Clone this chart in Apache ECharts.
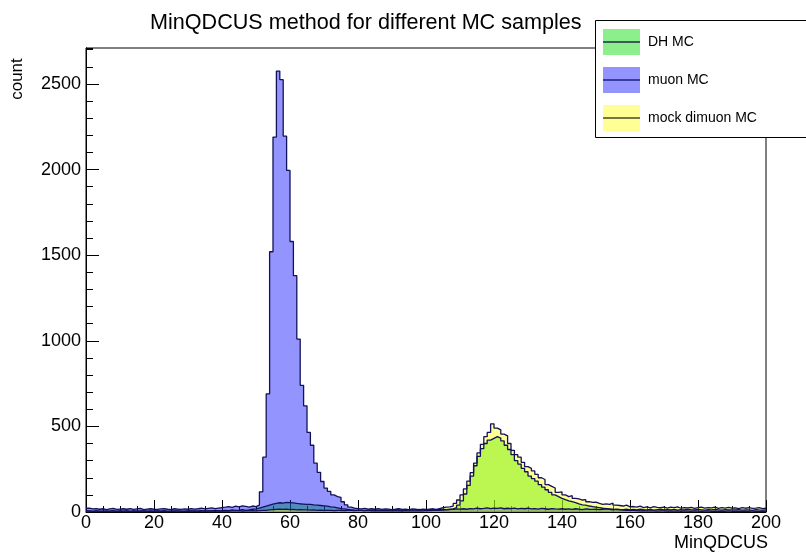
<!DOCTYPE html>
<html>
<head>
<meta charset="utf-8">
<script src="https://cdn.jsdelivr.net/npm/echarts@6/dist/echarts.min.js"></script>
<style>
  html, body { margin: 0; padding: 0; background: #fff; }
  #chart { width: 806px; height: 553px; }
</style>
</head>
<body>
<div id="chart"></div>
<script>
// histogram binning: 200 bins of width 1 starting at 0
const binLow = 0;
const binWidth = 1;

const seriesNames = ['DH MC', 'muon MC', 'mock dimuon MC'];

// bin contents
const dhMC = [
  6, 4, 7, 5, 3, 6, 5, 8, 4, 6,
  5, 7, 4, 6, 5, 3, 7, 5, 6, 4,
  6, 5, 8, 4, 5, 7, 6, 4, 5, 6,
  7, 5, 6, 8, 5, 6, 7, 9, 6, 8,
  10, 8, 12, 9, 11, 14, 10, 13, 16, 18,
  22, 28, 34, 40, 46, 50, 54, 52, 56, 55,
  53, 50, 48, 46, 44, 45, 42, 40, 38, 36,
  34, 30, 28, 24, 20, 18, 15, 13, 11, 10,
  9, 8, 9, 7, 8, 6, 7, 8, 6, 7,
  6, 7, 5, 8, 6, 7, 6, 8, 7, 9,
  8, 9, 10, 9, 11, 12, 14, 18, 25, 40,
  65, 105, 155, 210, 270, 325, 370, 400, 420, 430,
  440, 432, 415, 390, 365, 335, 300, 280, 255, 235,
  210, 195, 180, 160, 145, 130, 115, 100, 90, 80,
  72, 65, 60, 55, 48, 42, 40, 35, 32, 28,
  25, 22, 20, 18, 16, 14, 12, 11, 10, 9,
  9, 8, 7, 8, 6, 7, 6, 5, 7, 6,
  5, 6, 5, 7, 4, 6, 5, 4, 6, 5,
  4, 5, 6, 4, 5, 3, 5, 4, 6, 4,
  5, 4, 3, 5, 4, 6, 3, 4, 5, 4
];

const muonMC = [
  22, 18, 20, 16, 19, 14, 18, 21, 15, 17,
  19, 16, 20, 15, 18, 21, 14, 17, 19, 16,
  15, 18, 20, 16, 14, 19, 17, 15, 18, 16,
  20, 17, 19, 22, 18, 21, 24, 20, 23, 26,
  28, 32, 27, 34, 30, 36, 33, 29, 35, 31,
  40, 118, 320, 690, 1520, 2190, 2575, 2525, 2195, 1995,
  1580, 1380, 1010, 740, 620, 465, 390, 285, 232, 178,
  140, 120, 100, 90, 86, 60, 42, 28, 22, 20,
  18, 21, 17, 19, 16, 20, 15, 18, 17, 14,
  16, 19, 15, 17, 14, 18, 16, 13, 17, 15,
  14, 16, 13, 15, 17, 14, 16, 15, 18, 17,
  19, 16, 20, 18, 22, 19, 21, 24, 20, 23,
  21, 24, 19, 22, 20, 23, 18, 21, 19, 22,
  18, 20, 17, 21, 19, 16, 20, 18, 17, 19,
  16, 18, 15, 19, 17, 14, 18, 16, 15, 17,
  14, 16, 18, 15, 13, 17, 15, 14, 16, 13,
  15, 12, 16, 14, 13, 15, 11, 14, 16, 12,
  14, 13, 15, 11, 14, 12, 16, 13, 12, 15,
  13, 11, 14, 12, 15, 13, 11, 14, 12, 13,
  12, 14, 11, 13, 12, 10, 14, 12, 11, 13
];

const mockMC = [
  5, 3, 6, 4, 5, 2, 4, 6, 3, 5,
  4, 6, 3, 5, 4, 6, 5, 3, 4, 5,
  6, 4, 5, 3, 5, 4, 6, 5, 4, 3,
  5, 6, 4, 5, 7, 5, 6, 4, 6, 5,
  6, 5, 7, 6, 8, 5, 7, 6, 8, 7,
  8, 9, 10, 12, 14, 15, 16, 15, 17, 14,
  15, 13, 14, 12, 13, 11, 12, 10, 11, 9,
  10, 9, 8, 10, 9, 8, 9, 10, 8, 9,
  10, 8, 11, 9, 12, 10, 9, 11, 10, 12,
  11, 13, 10, 12, 14, 11, 13, 15, 12, 14,
  16, 18, 15, 20, 25, 28, 30, 35, 50, 70,
  100, 135, 180, 230, 285, 345, 395, 440, 465, 515,
  490, 480, 455, 445, 400, 360, 335, 320, 290, 265,
  255, 240, 220, 200, 190, 160, 150, 140, 115, 118,
  100, 90, 95, 80, 76, 70, 72, 60, 56, 58,
  50, 45, 48, 44, 52, 40, 38, 35, 40, 30,
  32, 28, 34, 26, 30, 24, 31, 27, 25, 29,
  23, 28, 25, 30, 22, 26, 24, 27, 21, 25,
  28, 22, 26, 24, 29, 21, 25, 23, 27, 22,
  24, 20, 26, 22, 25, 21, 23, 26, 20, 22
];

// axis ranges / ticks
const xMin = 0, xMax = 200, xStep = 20;
const yMin = 0, yMax = 2710, yStep = 500, yMinorStep = 100;

const FONT = "'Liberation Sans', Arial, Helvetica, sans-serif";
const lineColor = '#12125a';
const fills = ['rgba(0,220,0,0.45)', 'rgba(0,0,255,0.42)', 'rgba(255,255,0,0.42)'];
const legendLineColors = ['#1f2d48', '#1e1e86', '#48482a'];

function toSteps(values) {
  const pts = values.map((v, i) => [binLow + i * binWidth, v]);
  pts.push([binLow + values.length * binWidth, values[values.length - 1]]);
  return pts;
}

const chart = echarts.init(document.getElementById('chart'), null, { renderer: 'canvas' });

const allValues = [dhMC, muonMC, mockMC];

const option = {
  animation: false,
  backgroundColor: '#fff',
  title: {
    text: 'MinQDCUS method for different MC samples',
    left: 150,
    top: 12,
    padding: 0,
    textStyle: { fontSize: 21.6, fontWeight: 'normal', color: '#000', fontFamily: FONT }
  },
  legend: {
    orient: 'vertical',
    left: 603,
    top: 29,
    padding: 0,
    itemWidth: 37,
    itemHeight: 26,
    itemGap: 12,
    icon: 'rect',
    selectedMode: false,
    z: 20,
    textStyle: { fontSize: 14, color: '#000', fontFamily: FONT, padding: [0, 0, 0, 3] },
    data: seriesNames.map((n, i) => ({ name: n, itemStyle: { color: fills[i], borderWidth: 0 } }))
  },
  grid: {
    left: 86,
    right: 40,
    top: 48,
    bottom: 41,
    show: true,
    borderColor: '#000',
    borderWidth: 1,
    backgroundColor: 'transparent',
    outerBoundsMode: 'none'
  },
  xAxis: {
    type: 'value',
    min: xMin,
    max: xMax,
    interval: xStep,
    axisLine: { show: true, onZero: false, lineStyle: { color: '#000', width: 1 } },
    axisTick: { show: true, inside: true, length: 12, lineStyle: { color: '#000', width: 1 } },
    minorTick: { show: true, splitNumber: 4, length: 6, lineStyle: { color: '#000', width: 1 } },
    axisLabel: {
      fontSize: 18, color: '#000', fontFamily: FONT, margin: 2,
      showMinLabel: true, showMaxLabel: true,
      formatter: (v) => String(v)
    },
    splitLine: { show: false }
  },
  yAxis: [
    {
      type: 'value',
      min: yMin,
      max: yMax,
      interval: yMinorStep,
      position: 'left',
      axisLine: { show: true, lineStyle: { color: '#000', width: 1 } },
      axisTick: { show: true, inside: true, length: 7, lineStyle: { color: '#000', width: 1 } },
      axisLabel: { show: false },
      splitLine: { show: false }
    },
    {
      type: 'value',
      min: yMin,
      max: yMax,
      interval: yStep,
      position: 'left',
      axisLine: { show: true, lineStyle: { color: '#000', width: 1 } },
      axisTick: { show: true, inside: true, length: 13, lineStyle: { color: '#000', width: 1 } },
      axisLabel: {
        fontSize: 18, color: '#000', fontFamily: FONT, margin: 5, showMaxLabel: false,
        formatter: (v) => String(v)
      },
      splitLine: { show: false }
    }
  ],
  series: allValues.map((vals, i) => ({
    name: seriesNames[i],
    type: 'line',
    step: 'end',
    symbol: 'none',
    silent: true,
    xAxisIndex: 0,
    yAxisIndex: 0,
    data: toSteps(vals),
    lineStyle: { color: lineColor, width: 1.3 },
    itemStyle: { color: fills[i] },
    areaStyle: { color: fills[i], opacity: 1 },
    emphasis: { disabled: true }
  })),
  graphic: [
    {
      type: 'rect',
      z: 10,
      shape: { x: 595.5, y: 20.5, width: 215, height: 117 },
      style: { fill: '#fff', stroke: '#000', lineWidth: 1 }
    },
    ...legendLineColors.map((c, i) => ({
      type: 'line',
      z: 30,
      shape: { x1: 603, y1: 42 + i * 38, x2: 640, y2: 42 + i * 38 },
      style: { stroke: c, lineWidth: 1.3 }
    })),
    {
      type: 'text',
      x: 17,
      y: 79,
      rotation: Math.PI / 2,
      style: { text: 'count', fontSize: 17, fontFamily: FONT, fill: '#000', align: 'center', verticalAlign: 'middle' }
    },
    {
      type: 'text',
      x: 768,
      y: 543,
      style: { text: 'MinQDCUS', fontSize: 18, fontFamily: FONT, fill: '#000', align: 'right', verticalAlign: 'middle' }
    }
  ]
};

chart.setOption(option);
</script>
</body>
</html>
